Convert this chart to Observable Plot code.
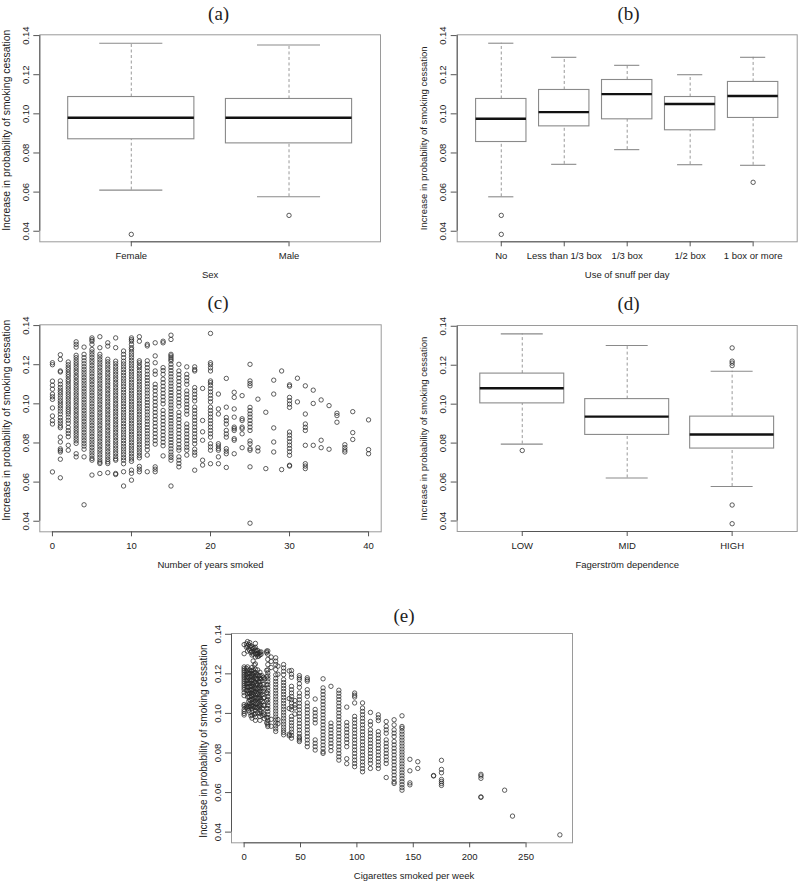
<!DOCTYPE html>
<html><head><meta charset="utf-8">
<script src="https://cdn.jsdelivr.net/npm/d3@7"></script>
<script src="https://cdn.jsdelivr.net/npm/@observablehq/plot@0.6"></script>
<style>
body{margin:0;background:#fff}
#wrap{position:relative;width:800px;height:883px;overflow:hidden;background:#fff}
#wrap > svg{position:absolute}
</style></head><body><div id="wrap"></div>
<script>
// ---------- shared ----------
const yLabelText = "Increase in probability of smoking cessation";
const yTicks = [0.04, 0.06, 0.08, 0.10, 0.12, 0.14];
const yDomain = [0.0346, 0.1404];

// ---------- (a) Sex ----------
const aCats = ["Female", "Male"];
const aLow  = [0.0610, 0.0576];
const aQ1   = [0.0870, 0.0849];
const aMed  = [0.0980, 0.0980];
const aQ3   = [0.1086, 0.1076];
const aHigh = [0.1361, 0.1352];
const aOutCat = [1, 2];
const aOutVal = [0.0384, 0.0481];

// ---------- (b) Snuff ----------
const bCats = ["No", "Less than 1/3 box", "1/3 box", "1/2 box", "1 box or more"];
const bLow  = [0.0576, 0.0742, 0.0817, 0.0740, 0.0737];
const bQ1   = [0.0856, 0.0936, 0.0972, 0.0916, 0.0979];
const bMed  = [0.0975, 0.1009, 0.1101, 0.1050, 0.1091];
const bQ3   = [0.1076, 0.1122, 0.1173, 0.1086, 0.1163];
const bHigh = [0.1361, 0.1289, 0.1248, 0.1200, 0.1289];
const bOutCat = [1, 1, 5];
const bOutVal = [0.0481, 0.0384, 0.0650];

// ---------- (d) Fagerström ----------
const dCats = ["LOW", "MID", "HIGH"];
const dLow  = [0.0795, 0.0621, 0.0577];
const dQ1   = [0.1004, 0.0842, 0.0772];
const dMed  = [0.1082, 0.0936, 0.0844];
const dQ3   = [0.1157, 0.1026, 0.0936];
const dHigh = [0.1361, 0.1301, 0.1169];
const dOutCat = [1, 3, 3, 3, 3, 3, 3];
const dOutVal = [0.0762, 0.1289, 0.1221, 0.1211, 0.1198, 0.0482, 0.0386];

// ---------- (c) years smoked (values in thousandths) ----------
const cXTicks = [0, 10, 20, 30, 40];
const cYears = [0,1,2,3,4,5,6,7,8,9,10,11,12,13,14,15,16,17,18,19,20,21,22,23,24,25,26,27,28,29,30,31,32,33,34,35,36,37,38,40];
const cValues = [
 [121,120,111.6,109.5,107.5,105,103.6,102.3,97.9,93.8,91.4,89.7,65.2],
 [125.1,122.7,116.8,116.3,111.7,110,108.4,107,105.8,104.5,103,101.6,100.4,99.1,97.8,96.3,94.8,93,91.5,90.2,88.7,87.8,83,80.5,77,76.2,75.4,71.7,62.2],
 [121.4,120,118.7,117.5,116.2,115,113.8,112.4,111.3,110,108.7,107.5,106.1,104.9,103.6,102.4,101,99.8,98.4,97.2,96,94.8,93.2,91.6,90.1,88,86.3,84.9,83.2,78.8,76.3],
 [131.7,130.4,129,124.8,123.6,122.3,121,119.8,118.5,117.2,116,114.6,113.4,112,110.8,109.5,108.2,107,105.6,104.4,103,101.8,100.5,99.2,97.9,96.6,95.3,94,92.7,91.4,90.1,88.8,87.5,86.2,85,83.7,82.4,81.1,79.8,74.5,72.9],
 [129,125.3,123.6,122,120.5,119,117.6,116.2,114.8,113.4,112,110.6,109.2,107.8,106.4,105,103.6,102.2,100.8,99.4,98,96.6,95.2,93.8,92.4,91,89.6,88.2,86.8,85.4,84,82.6,81.2,79.8,78.4,76.8,72.9,48.4],
 [133.7,132.8,132,130.4,127.8,126.5,125.1,123.7,122.3,121,119.6,118.2,116.8,115.4,114,112.6,111.3,109.9,108.5,107.1,105.7,104.3,102.9,101.5,100.1,98.7,97.3,95.9,94.5,93.1,91.7,90.3,88.9,87.5,86.1,84.7,83.3,81.9,80.5,79.1,77.7,76.3,74.9,73.5,72.1,71.2,63.6],
 [134.3,128.7,125.3,124,122.6,121.3,119.9,118.6,117.2,115.9,114.5,113.2,111.8,110.5,109.1,107.8,106.4,105.1,103.7,102.4,101,99.7,98.3,97,95.6,94.3,92.9,91.6,90.2,88.9,87.5,86.2,84.8,83.5,82.1,80.8,79.4,78.1,76.7,75.4,74,72.7,71.3,70.2,69.5,64.4],
 [131.2,129.5,122.8,121.5,120.2,118.8,117.5,116.1,114.8,113.4,112.1,110.7,109.4,108,106.7,105.3,104,102.6,101.3,99.9,98.6,97.2,95.9,94.5,93.2,91.8,90.5,89.1,87.8,86.4,85.1,83.7,82.4,81,79.7,78.3,77,75.6,74.3,72.9,71.6,70.4,69.5,64.8],
 [133.7,128.7,121.8,120.5,119.1,117.8,116.4,115.1,113.7,112.4,111,109.7,108.3,107,105.6,104.3,102.9,101.6,100.2,98.9,97.5,96.2,94.8,93.5,92.1,90.8,89.4,88.1,86.7,85.4,84,82.7,81.3,80,78.6,77.3,75.9,74.6,73.2,71.9,71.2,64.4,63.9],
 [127,125.3,123.6,121.8,120.4,118.9,117.5,116,114.6,113.1,111.7,110.2,108.8,107.3,105.9,104.4,103,101.5,100.1,98.6,97.2,95.7,94.3,92.8,91.4,89.9,88.5,87,85.6,84.1,82.7,81.2,79.8,78.3,76.9,75.4,74,72.5,71.2,69.4,65.3,58],
 [133.7,132.8,132,130.4,128.7,127.8,126.4,125,123.6,122.2,120.8,119.4,118,116.6,115.2,113.8,112.4,111,109.6,108.2,106.8,105.4,104,102.6,101.2,99.8,98.4,97,95.6,94.2,92.8,91.4,90,88.6,87.2,85.8,84.4,83,81.6,80.2,78.8,77.4,76,74.6,73.2,71.8,70.6,66.1,64.5,61],
 [134.3,132,122,121,119.5,118.5,117,115.6,114.2,112.8,111.4,110,108.6,107.2,105.8,104.4,103,101.6,100.2,98.8,97.4,96,94.6,93.2,91.8,90.4,89,87.6,86.2,84.8,83.4,82,80.6,79.2,77.8,76.4,75,73.6,72.4,68,66.6,65.3],
 [130.4,129.6,122,120.2,118.5,116.8,115.1,113.5,111.9,110.3,108.7,107.1,105.5,103.9,102.3,100.7,99.1,97.5,95.9,94.3,92.7,91.1,89.5,87.9,86.3,84.7,83.1,81.5,79.9,78.3,76.5,73.8,65.3],
 [131.2,124.5,121,116.8,115.1,110,108.3,106.6,104.6,102.8,101,99.2,97.4,95.6,93.8,92,90.2,88.4,86.6,84.8,83,81.2,79.4,67.8,66.6,65.3],
 [132,131.2,118.5,117,115.1,112.6,110.8,109,107.2,105.4,103.6,101.8,100,96.6,94.8,93,91.2,89.4,87.6,85.8,84,82.2,80.4,78.6,73.4],
 [135.1,132.9,125.3,124.5,123.6,122.7,121.9,120.2,118.6,117,115.4,113.8,112.2,110.6,109,107.4,105.8,104.2,102.6,101,99.4,97.8,96.2,94.6,93,91.4,89.8,88.2,86.6,85,83.4,81.8,80.2,78.6,77,75.4,73.8,72.6,71.2,58],
 [120.2,116.8,115,113.2,111.4,109.6,107.8,106,104.2,102.4,100.6,98.8,95.6,93.8,92,90.2,88.4,86.6,84.8,83,81.2,79.4,77.6,76.3,72.9,71.2,69.5,67.8],
 [118.9,115.1,113.4,111.7,110,106.6,104.9,103.2,101.5,99.8,98.1,96.4,94.7,89.7,88,86.3,84.6,82.9,81.2,79.5,77.8,76.3,73.8],
 [118.9,117.5,116.8,108.3,106.6,104.9,103.2,101.5,98.3,96.6,94.9,93.2,91.5,89.8,88.1,86.4,84.7,83,81.3,79.6,76.8,75.2,73.8,66.1],
 [107.9,91.5,85.7,81.4,71.2,68.7],
 [136,121,120,118.4,116.8,111.7,110.8,109.5,107.8,106.1,104.4,102.7,101,98.3,96.6,94.9,93.2,91.5,89.8,88.1,86.4,84.7,83,79.6,78,76.3,69.4],
 [105,97.4,94.8,79.6,78.5,77.2,76.3,72.9,69.4],
 [113,98.3,93,91.4,89.7,86.4,84.6,83,77.1,75.8,74.5,67.5],
 [105.9,103.3,97.4,93.2,88.1,87.3,86.4,82.2,81.4,74.5],
 [104.2,92.4,91.5,88.1,87.3,84.7,77.6],
 [120.2,111.7,110.4,109.2,98.2,96.5,94.8,93.2,91.5,89.8,88.1,86.4,81,79.6,77.1,76.3,67.8,39],
 [102.4,77.6,75.9],
 [95.7,66.9],
 [112.1,105,87.7,80.5,75.4],
 [116.8,66.4],
 [109.7,109,103.3,101.6,99.9,98.2,85.6,84,82.3,80.6,78.9,77.2,75.5,73.7,68.6,68.2],
 [113.1,101],
 [109.2,94.8,89.7,88,86.4,78.8,69.4,68.2,66.9],
 [107,100.2,78.8],
 [102,81.4,77.6],
 [99.1,76.8],
 [95.2,94,90.6],
 [79.1,77.7,76.4,75.4],
 [96,85.3,81.8],
 [91.8,76.6,74.5]
];

// ---------- (e) cigarettes per week (values in thousandths) ----------
const eXTicks = [0, 50, 100, 150, 200, 250];
const eCigs = [0,2,3,4,5,6,7,8,9,10,11,12,13,14,15,16,17,18,20,21,24,28,30,35,40,42,45,49,56,63,70,77,84,91,98,105,112,119,126,133,140,147,154,168,175,210,231,238,280];
const eValues = [
 [134.8,130.2,123.5,122.6,121.7,120.8,119.8,118.9,118,117,116,115,114,113,112,110.5,109,104.5,103.6,102,101,100,99.2],
 [135.2,133.5,122.8,121,119.5,118,116.5,115,113.5,111.5,104,103],
 [136.3,134,131.5,123.5,121.8,120.1,118.4,116.7,115,113.3,111.6,110,108.3,103.5,102.6],
 [134.9,132.6,120.5,118,115.5,113.5,111,108.5,106,103.5,101.5],
 [135.8,133.8,131.8,122,120.3,118.6,116.9,115.2,113.5,111.8,110.1,108.4,106.7,105,103.3,100.5],
 [134.2,130.8,121.5,119,116.5,114,111.5,109,106.5,103.6,98.8],
 [133.5,131.2,129.5,123.2,121.6,120,118.4,116.8,115.2,113.6,112,110.4,108.8,107.2,105.6,104,102.4,100.8,99.2,97.6],
 [132.8,130,126.5,122,119.5,117,114.5,112,109.5,107,103.5],
 [133,131.5,124.5,120.5,118,115.5,113,110.5,108,105.5,103,99.5],
 [135.4,133.4,132,130.3,128.5,125,122.3,120.7,119.1,117.5,115.9,114.3,112.7,111.1,109.5,107.9,106.3,104.7,103.1,101.5,99.9,98.3,96.5],
 [131.6,129.8,119.8,117.4,115,112.5,110.2,107.6,105,102.8],
 [131.8,130.2,128.8,122,119.6,117.2,114.8,112.4,110,107.6,105.2,102.8,100.4],
 [130.5,129,118.9,116,113.2,110.4,107.6,103.9],
 [130.9,129.6,120.8,119.2,117.6,116,114.4,112.8,111.2,109.6,108,106.4,104.8,103.2,101.6,100,98.4,96.5],
 [131.1,129.9,117.5,114,110.5,107,104,101],
 [119,116.5,113,109.5,106,102.5,99],
 [118.2,114.7,111.2,107.7,104.2,100.2],
 [117.5,112.5,108,104,99.3,97.4],
 [131.5,130.7,121.8,118.5,114.5,110.5,106.5,102.5,98,95.2],
 [131.6,129.9,127.3,124.7,122,120.5,119,117.5,116,114.5,113,111.5,110,108.5,107,105.5,104,102.5,101,99.5,98,96.5,95.1,94.2,93.4],
 [128.5,126.3,123.2,97,93.5],
 [128.1,126.4,124.7,122.2,119.5,117.7,116.2,114.7,113.2,111.7,110.2,108.7,107.2,105.7,104.2,102.7,101.2,99.7,98.2,96.7,95.2,93.7,92.2,90.9],
 [123.9,119.8,96.9,94.8],
 [124.7,123,121.3,119.6,117.1,115.6,114.1,112.6,111.1,109.6,108.1,106.6,105.1,103.6,102.1,100.6,99.1,97.6,96.1,94.6,93.1,91.6,90.4,89.2],
 [121.5,107.5,102.5,89.5,88.7],
 [121.7,119.8,118.3,113.7,112,110.3,108.6,106.9,105.2,103.5,101.9,98.5,96.9,95.3,93.7,92.1,90.5,88.9,87.5],
 [106.5,104.2,102.8,99.7],
 [119.1,118,117.1,115,113.2,110.3,108.6,106.9,105.2,103.5,101.8,100.1,98.4,96.7,95,93.3,91.6,89.9,88.3,87.5,86.6,85.8],
 [118,117.1,116.3,112,110.3,108.6,105.3,103.6,101.9,100.2,98.5,96.8,95.1,93.4,91.7,90,88.3,86.6,84.9,83.2],
 [107.3,102,100.3,98.6,96.9,95.2,86.6,84.9,83.2,81.5],
 [117.5,112.9,111.2,109.5,107.8,106.1,104.4,102.7,101,99.3,97.6,95.9,94.2,92.5,90.8,89.1,87.4,85.7,84,82.3,80.6,79.8],
 [113.7,95.1,93.4,91.7,90,88.3,86.6,84.9,83.2,81.2],
 [111.7,110.2,108.6,107,105.3,103.6,101.9,100.2,98.5,96.8,95.1,93.4,91.7,90,88.3,86.6,84.9,83.2,81.5,79.8,78.1,76.4],
 [103.2,95.4,93.7,92,90.3,88.6,86.9,85.2,83.2,77.1,74.6],
 [110.3,109.2,108.3,105.3,98.5,96.8,95.1,93.4,91.7,90,88.3,86.6,84.9,83.2,81.5,79.8,78.1,76.4,74.7,73.1],
 [105.3,102.7,101,99.3,97.6,95.9,94.2,92.5,90.8,89.1,87.4,85.7,84,82.3,80.6,78.9,77.2,75.5,73.8,72.1,70.5],
 [100.5,95.9,94.2,91.7,90,88.3,86.6,84.9,83.2,81.5,79.8,78.1,76.4,74.7,72.2],
 [99.3,97.8,96.4,90.8,89.1,87.4,85.7,84,82.3,80.6,78.9,77.2,75.5,73.8,72.2],
 [95.9,93.4,91.7,90,86.6,84.9,83.2,81.5,79.8,78.1,76.4,74.7,67.6],
 [96.8,94.2,91.7,90,88.3,85.8,84.1,82.4,80.7,79,77.3,75.6,73.9,72.2,70.5,68.8,67.1,65.4,64.6],
 [98.8,93.4,92.5,91,89.5,88,86.5,85,83.5,82,80.5,79,77.5,76,74.5,73,71.5,70,68.5,67,65.5,64,62.5,61.2],
 [76.8,71,64.9,63.9],
 [75.6,72.2],
 [68.6,68.4],
 [76.3,71.7,70,66.6,65.6,64.6,63.6],
 [69.2,68.4,67.2,57.8,57.6],
 [61.2],
 [48.1],
 [38.6]
];

// ---------- helpers ----------
const fmt2 = d3.format(".2f");
const INK = "#222";
const AX = "#555";

function axesMarks(o) {
  const xFirst = o.xTicks[0], xLast = o.xTicks[o.xTicks.length - 1];
  return [
    Plot.frame({stroke: "#9a9a9a", strokeWidth: 1}),
    Plot.ruleX([o.xmin], {x: d => d, y1: 0.04, y2: 0.14, stroke: AX}),
    Plot.ruleY([yDomain[0]], {y: d => d, x1: xFirst, x2: xLast, stroke: AX}),
    Plot.ruleY(yTicks, {y: d => d, x1: o.xmin, x2: o.xmin, insetLeft: -6, stroke: AX}),
    Plot.ruleX(o.xTicks, {x: d => d, y1: yDomain[0], y2: yDomain[0], insetBottom: -5, stroke: AX}),
    Plot.text(yTicks, {y: d => d, frameAnchor: "left", dx: -14, rotate: -90, text: d => fmt2(d), textAnchor: "middle", lineAnchor: "middle", fill: INK}),
    Plot.text(o.xTicks, {x: d => d, frameAnchor: "bottom", dy: 14, text: (d, i) => o.xTickLabels[i], textAnchor: "middle", lineAnchor: "middle", fill: INK}),
    Plot.text([o.xLabel], {frameAnchor: "bottom", dx: o.xLabelDx || 0, dy: 33, textAnchor: "middle", lineAnchor: "middle", fill: INK}),
    Plot.text([yLabelText], {frameAnchor: "left", dx: o.yLabelDx, dy: o.yLabelDy || 0, rotate: -90, textAnchor: "middle", lineAnchor: "middle", fontSize: o.yLabelSize, fill: INK}),
    Plot.text([o.title], {frameAnchor: "top", dx: o.titleDx, dy: o.titleDy, textAnchor: "middle", fontFamily: "Liberation Serif, serif", fontSize: 19, lineAnchor: "middle", fill: INK})
  ];
}

function boxPanel(p) {
  const n = p.cats.length;
  const idx = p.cats.map((c, i) => i);
  const xmin = 0.5 - 0.04 * n, xmax = n + 0.5 + 0.04 * n;
  const outs = p.outCat.map((c, i) => ({x: c, y: p.outVal[i]}));
  const boxStroke = "#8a8a8a";
  const plot = Plot.plot({
    width: 400, height: p.height,
    marginLeft: p.ml, marginRight: p.mr, marginTop: p.mt, marginBottom: p.height - p.frameBottom,
    x: {domain: [xmin, xmax], axis: null},
    y: {domain: yDomain, axis: null},
    style: {fontFamily: "Liberation Sans, Arial, sans-serif", fontSize: "9.5px", background: "white"},
    marks: [
      Plot.ruleX(idx, {x: i => i + 1, y1: i => p.q3[i], y2: i => p.high[i], stroke: "#999", strokeDasharray: "3,2.5"}),
      Plot.ruleX(idx, {x: i => i + 1, y1: i => p.low[i], y2: i => p.q1[i], stroke: "#999", strokeDasharray: "3,2.5"}),
      Plot.ruleY(idx, {y: i => p.high[i], x1: i => i + 0.8, x2: i => i + 1.2, stroke: boxStroke, strokeWidth: 1.1}),
      Plot.ruleY(idx, {y: i => p.low[i], x1: i => i + 0.8, x2: i => i + 1.2, stroke: boxStroke, strokeWidth: 1.1}),
      Plot.rect(idx, {x1: i => i + 0.6, x2: i => i + 1.4, y1: i => p.q1[i], y2: i => p.q3[i], fill: "white", stroke: boxStroke, strokeWidth: 1.1}),
      Plot.ruleY(idx, {y: i => p.med[i], x1: i => i + 0.6, x2: i => i + 1.4, stroke: "#111", strokeWidth: 2.4}),
      Plot.dot(outs, {x: "x", y: "y", r: 2.2, stroke: "#333", strokeWidth: 0.8}),
      ...axesMarks({xmin, xTicks: idx.map(i => i + 1), xTickLabels: p.cats, xLabel: p.xLabel,
        title: p.title, titleDx: p.titleDx, titleDy: p.titleDy,
        yLabelDx: -33, yLabelDy: p.yLabelDy, yLabelSize: p.yLabelSize})
    ]
  });
  plot.style.left = p.left + "px";
  plot.style.top = p.top + "px";
  return plot;
}

function scatterPanel(p) {
  const pts = p.xs.flatMap((x, i) => p.vals[i].map(v => ({x, y: v / 1000})));
  const plot = Plot.plot({
    width: p.width, height: p.height,
    marginLeft: p.ml, marginRight: p.mr, marginTop: p.mt, marginBottom: p.mb,
    x: {domain: p.xDomain, axis: null},
    y: {domain: yDomain, axis: null},
    style: {fontFamily: "Liberation Sans, Arial, sans-serif", fontSize: "9.5px", background: "white"},
    marks: [
      Plot.dot(pts, {x: "x", y: "y", r: 2.2, stroke: "#2a2a2a", strokeWidth: 0.75}),
      ...axesMarks({xmin: p.xDomain[0], xTicks: p.xTicks, xTickLabels: p.xTicks.map(String), xLabel: p.xLabel,
        xLabelDx: p.xLabelDx, title: p.title, titleDx: p.titleDx, titleDy: p.titleDy,
        yLabelDx: p.yLabelDx, yLabelDy: p.yLabelDy, yLabelSize: p.yLabelSize})
    ]
  });
  plot.style.left = p.left + "px";
  plot.style.top = p.top + "px";
  return plot;
}

const wrap = document.getElementById("wrap");

wrap.appendChild(boxPanel({
  cats: aCats, low: aLow, q1: aQ1, med: aMed, q3: aQ3, high: aHigh, outCat: aOutCat, outVal: aOutVal,
  xLabel: "Sex", title: "(a)", titleDx: 8.5, titleDy: -21,
  left: 0, top: 0, height: 290, ml: 39.3, mr: 20, mt: 34.3, frameBottom: 241.3,
  yLabelDy: -8, yLabelSize: 10.4
}));

wrap.appendChild(boxPanel({
  cats: bCats, low: bLow, q1: bQ1, med: bMed, q3: bQ3, high: bHigh, outCat: bOutCat, outVal: bOutVal,
  xLabel: "Use of snuff per day", title: "(b)", titleDx: 1.3, titleDy: -21,
  left: 400, top: 0, height: 290, ml: 56.7, mr: 3.3, mt: 34.3, frameBottom: 241.3,
  yLabelDy: 0, yLabelSize: 9.5
}));

wrap.appendChild(scatterPanel({
  xs: cYears, vals: cValues, xTicks: cXTicks, xDomain: [-1.6, 41.6],
  xLabel: "Number of years smoked", title: "(c)", titleDx: 7.5, titleDy: -22,
  left: 0, top: 290, width: 400, height: 300, ml: 39.3, mr: 19.3, mt: 34.3, mb: 300 - 241.3,
  yLabelDx: -33, yLabelDy: -8, yLabelSize: 10.4
}));

wrap.appendChild(boxPanel({
  cats: dCats, low: dLow, q1: dQ1, med: dMed, q3: dQ3, high: dHigh, outCat: dOutCat, outVal: dOutVal,
  xLabel: "Fagerström dependence", title: "(d)", titleDx: 1.3, titleDy: -22,
  left: 400, top: 290, height: 300, ml: 56.7, mr: 3.3, mt: 35, frameBottom: 241,
  yLabelDy: 0, yLabelSize: 9.5
}));

wrap.appendChild(scatterPanel({
  xs: eCigs, vals: eValues, xTicks: eXTicks, xDomain: [-11.2, 291.2],
  xLabel: "Cigarettes smoked per week", xLabelDx: 12, title: "(e)", titleDx: 2, titleDy: -17.5,
  left: 180, top: 590, width: 420, height: 293, ml: 51, mr: 28, mt: 43, mb: 293 - 252.3,
  yLabelDx: -28, yLabelDy: 3, yLabelSize: 10
}));
</script>
</body></html>
